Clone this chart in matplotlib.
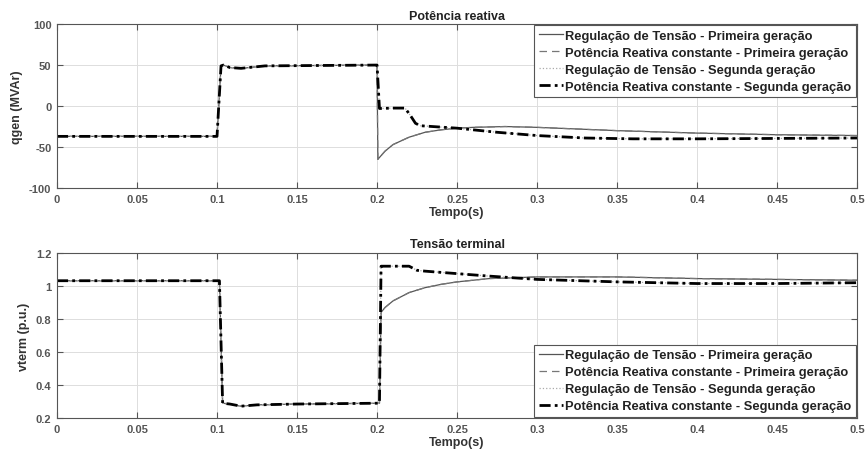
import numpy as np
import matplotlib
matplotlib.use('Agg')
import matplotlib.pyplot as plt

plt.rcParams['font.family'] = ['Liberation Sans', 'DejaVu Sans']
plt.rcParams['font.weight'] = 'bold'
plt.rcParams['axes.labelweight'] = 'bold'
plt.rcParams['axes.unicode_minus'] = False

# --- reactive power (MVAr) ---
t_pre = [0, 0.1, 0.1025, 0.104, 0.108, 0.115, 0.13, 0.2]
q_pre = [-37, -37, 49, 50, 47, 46, 49, 50]

t_q_rt1 = [0.2005, 0.205, 0.21, 0.22, 0.23, 0.24, 0.25, 0.26, 0.28, 0.3, 0.35, 0.4, 0.45, 0.5]
q_rt1 = [-65, -55, -47, -38, -32, -29, -27, -26, -25, -26, -30, -33, -35, -36]

t_q_pq2 = [0.2015, 0.21, 0.2175, 0.221, 0.224, 0.227, 0.25, 0.275, 0.3, 0.33, 0.36, 0.4, 0.45, 0.5]
q_pq2 = [-3, -2.5, -2.5, -12, -21, -24, -27, -32, -36, -39, -40, -40, -39.5, -39]

# --- terminal voltage (p.u.) ---
t_v_pre = [0, 0.1015, 0.1035, 0.108, 0.115, 0.125, 0.15, 0.2015]
v_pre = [1.032, 1.032, 0.29, 0.285, 0.272, 0.28, 0.285, 0.29]

t_v_rt1 = [0.2025, 0.205, 0.21, 0.22, 0.23, 0.24, 0.25, 0.27, 0.3, 0.35, 0.4, 0.45, 0.5]
v_rt1 = [0.84, 0.87, 0.91, 0.96, 0.99, 1.01, 1.025, 1.045, 1.055, 1.055, 1.045, 1.04, 1.035]

t_v_pq2 = [0.2025, 0.22, 0.225, 0.23, 0.25, 0.27, 0.3, 0.35, 0.4, 0.45, 0.5]
v_pq2 = [1.12, 1.12, 1.095, 1.09, 1.075, 1.06, 1.04, 1.025, 1.015, 1.015, 1.02]

labels = ['Regulação de Tensão - Primeira geração',
          'Potência Reativa constante - Primeira geração',
          'Regulação de Tensão - Segunda geração',
          'Potência Reativa constante - Segunda geração']

styles = [dict(color='#555555', lw=0.9, ls='-'),
          dict(color='#777777', lw=0.9, ls=(0, (6, 4))),
          dict(color='#aaaaaa', lw=0.9, ls=':'),
          dict(color='black', lw=2.0, ls=(0, (4, 1.5, 1, 1.5)))]


def series(t0, y0, t1, y1):
    return np.array(t0 + t1), np.array(y0 + y1)


q_first = series(t_pre, q_pre, t_q_rt1, q_rt1)
q_second = series(t_pre, q_pre, t_q_pq2, q_pq2)
v_first = series(t_v_pre, v_pre, t_v_rt1, v_rt1)
v_second = series(t_v_pre, v_pre, t_v_pq2, v_pq2)

fig = plt.figure(figsize=(8.66, 4.56), dpi=100)
ax1 = fig.add_axes([0.0658, 0.5855, 0.924, 0.3595])
ax2 = fig.add_axes([0.0658, 0.081, 0.924, 0.362])


def style_ax(ax):
    ax.set_xlim(0, 0.5)
    ax.set_xticks(np.arange(0, 0.51, 0.05))
    ax.set_xticklabels(['0', '0.05', '0.1', '0.15', '0.2', '0.25', '0.3', '0.35', '0.4', '0.45', '0.5'])
    ax.grid(True, color='#dddddd', lw=0.7)
    ax.tick_params(direction='in', top=True, right=True, labelsize=8, colors='#555555',
                   length=4, width=0.8, pad=4)
    for s in ax.spines.values():
        s.set_color('#555555')
        s.set_linewidth(0.8)
    ax.set_xlabel('Tempo(s)', fontsize=9, color='#333333', labelpad=2)


for ax, first, second in [(ax1, q_first, q_second), (ax2, v_first, v_second)]:
    ax.plot(*first, label=labels[0], **styles[0])
    ax.plot(*first, label=labels[1], **styles[1])
    ax.plot(*second, label=labels[2], **styles[2])
    ax.plot(*second, label=labels[3], **styles[3])
    style_ax(ax)

ax1.set_ylim(-100, 100)
ax1.set_yticks([-100, -50, 0, 50, 100])
ax1.set_ylabel('qgen (MVAr)', fontsize=9, color='#333333', labelpad=4)
ax1.set_title('Potência reativa', fontsize=9, color='#222222', pad=4, fontweight='bold')

ax2.set_ylim(0.2, 1.2)
ax2.set_yticks([0.2, 0.4, 0.6, 0.8, 1.0, 1.2])
ax2.set_yticklabels(['0.2', '0.4', '0.6', '0.8', '1', '1.2'])
ax2.set_ylabel('vterm (p.u.)', fontsize=9, color='#333333', labelpad=4)
ax2.set_title('Tensão terminal', fontsize=9, color='#222222', pad=4, fontweight='bold')

for ax, loc in [(ax1, 'upper right'), (ax2, 'lower right')]:
    leg = ax.legend(loc=loc, prop={'size': 9.3, 'weight': 'bold'}, fancybox=False, framealpha=1,
                    edgecolor='#555555', borderaxespad=0.1, handlelength=1.9, handletextpad=0.15,
                    labelspacing=0.38, borderpad=0.35)
    leg.get_frame().set_linewidth(0.8)
    for txt in leg.get_texts():
        txt.set_color('#222222')

fig.savefig('out.png', dpi=100)
